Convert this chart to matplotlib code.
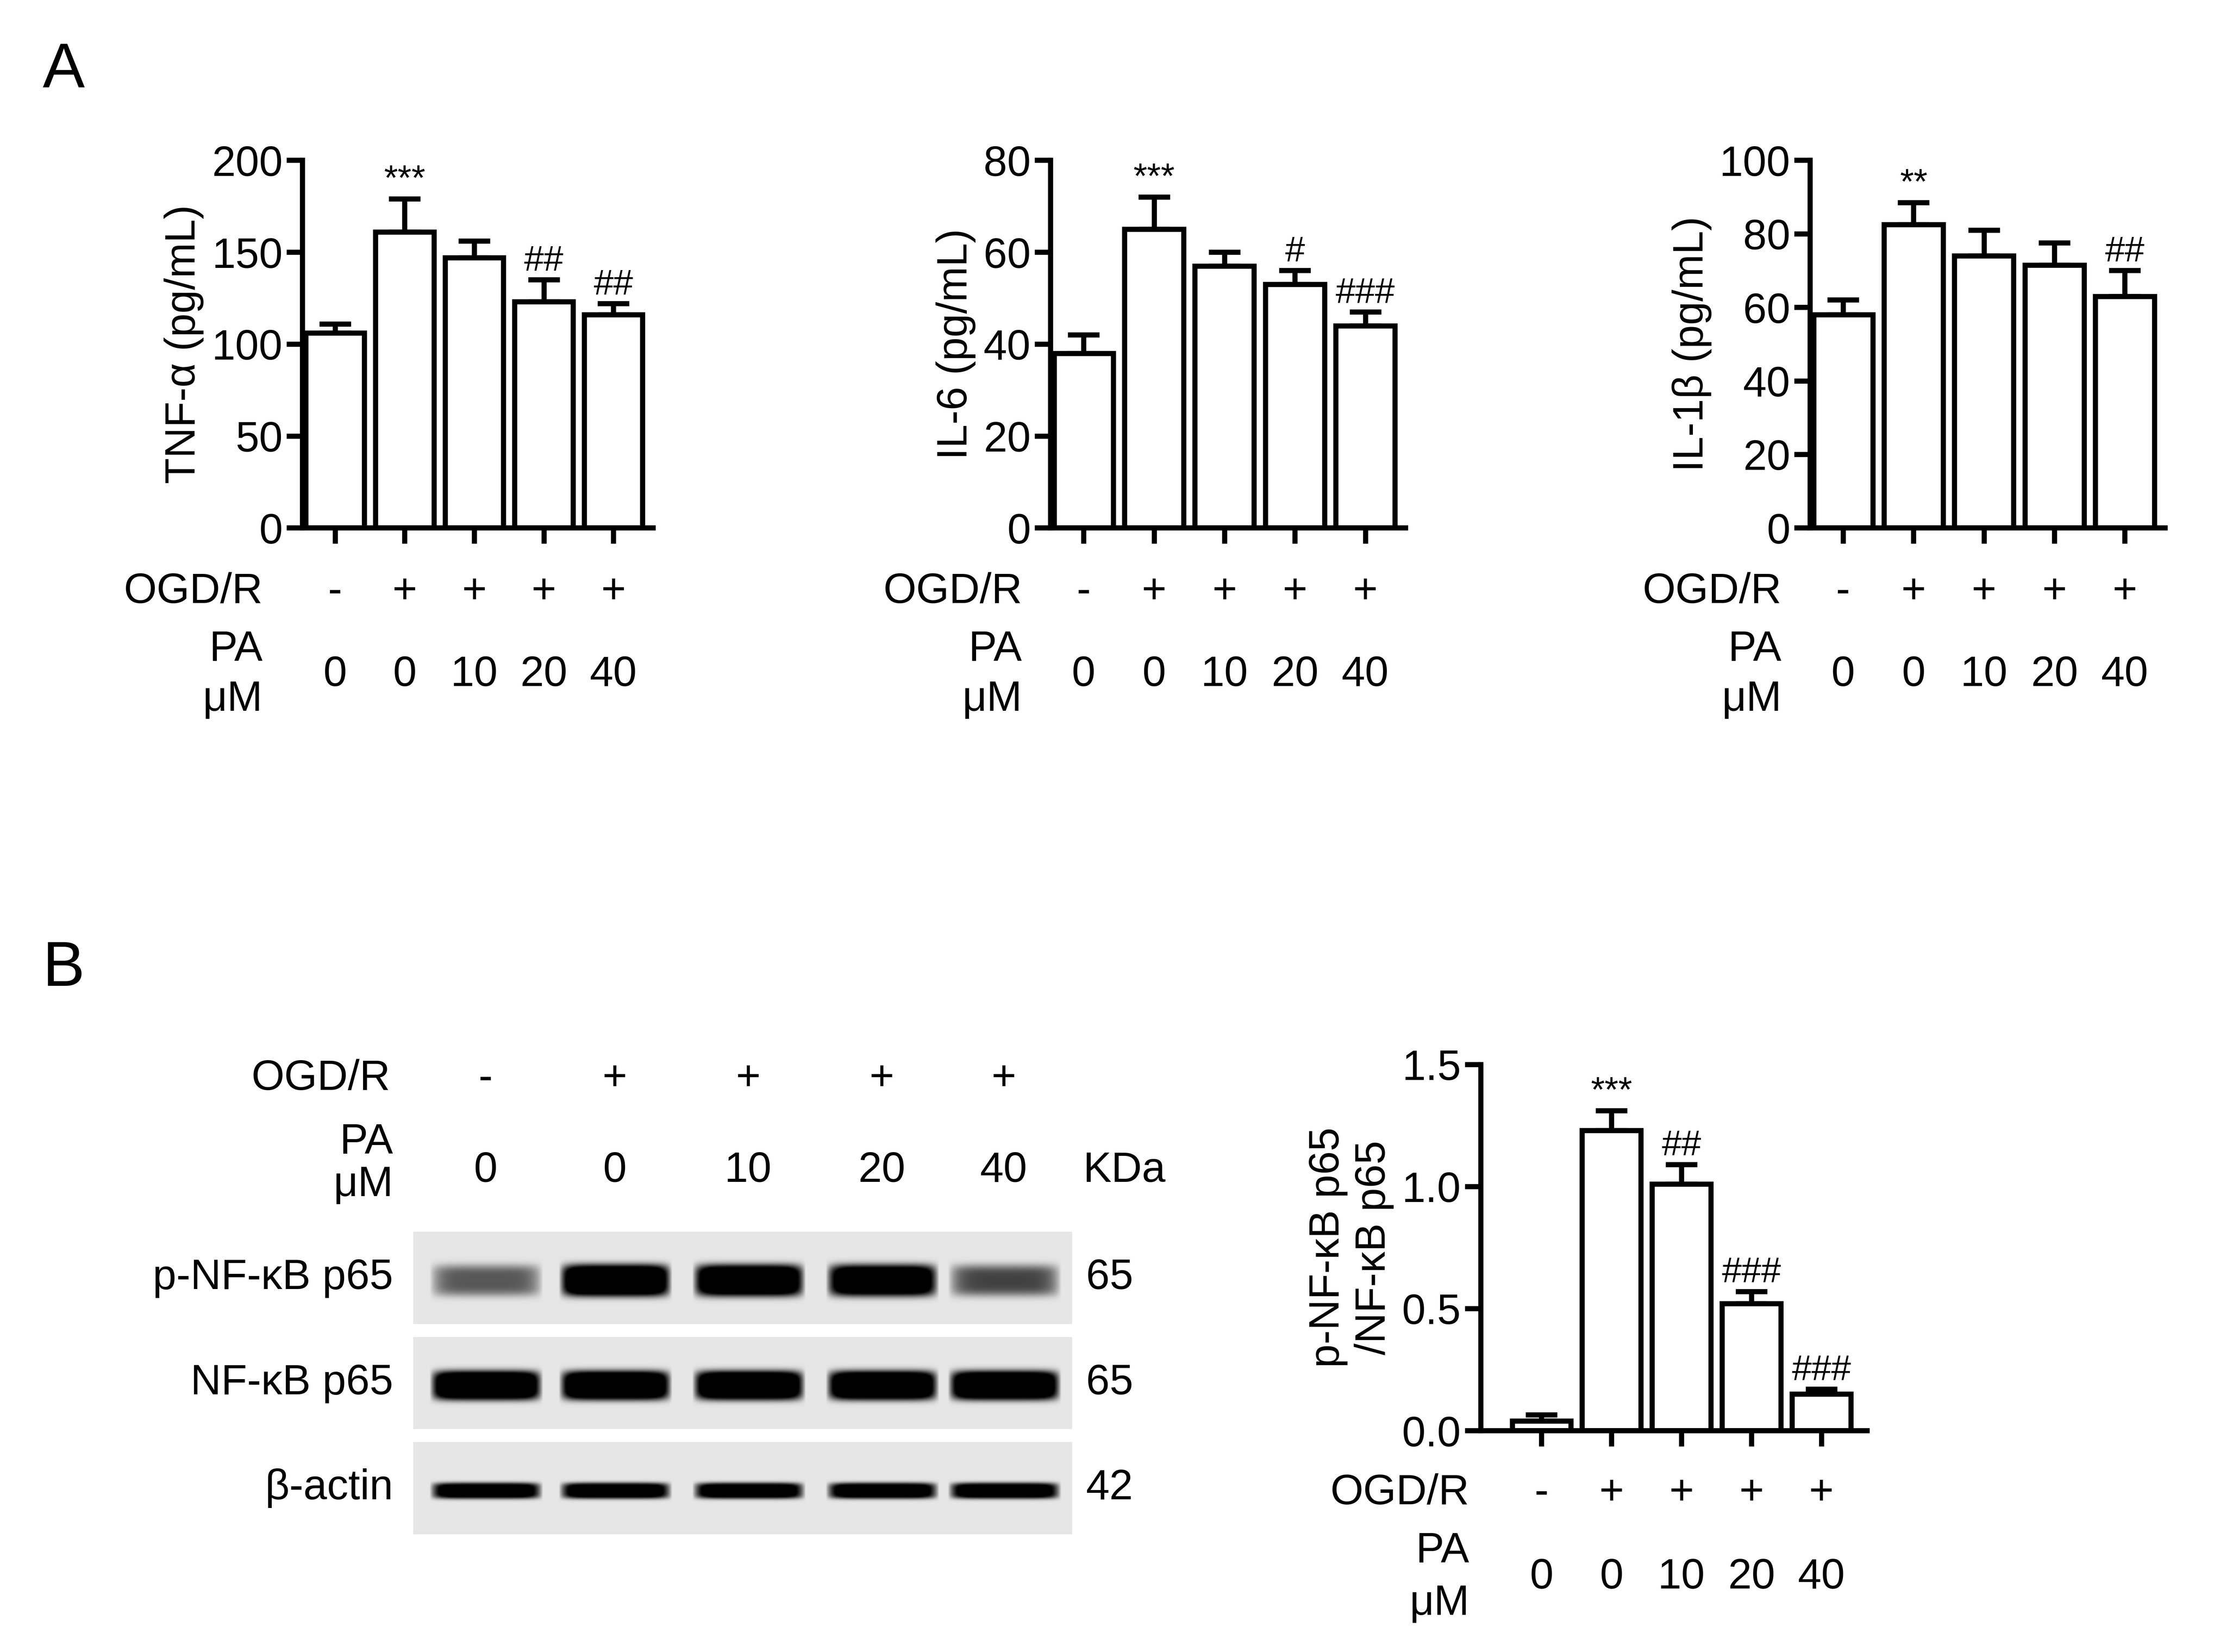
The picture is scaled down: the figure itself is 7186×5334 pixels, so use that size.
import numpy as np
import matplotlib
matplotlib.use("Agg")
import matplotlib.pyplot as plt
from matplotlib.transforms import blended_transform_factory

plt.rcParams['font.family'] = ['Liberation Sans', 'DejaVu Sans']

W, H = 1568, 1164  # layout grid in reference pixels (scaled down)
FS = 21.5

# data
ogd = ['-', '+', '+', '+', '+']
pa = ['0', '0', '10', '20', '40']

tnf_mean = [106, 161, 147, 123, 116]
tnf_err = [5, 18, 9, 12, 6]
tnf_sig = ['', '***', '', '##', '##']

il6_mean = [38, 65, 57, 53, 44]
il6_err = [4, 7, 3, 3, 3]
il6_sig = ['', '***', '', '#', '###']

il1b_mean = [58, 82.5, 74, 71.5, 63]
il1b_err = [4, 6, 7, 6, 7]
il1b_sig = ['', '**', '', '', '##']

p65_mean = [0.04, 1.23, 1.01, 0.52, 0.15]
p65_err = [0.025, 0.08, 0.08, 0.05, 0.02]
p65_sig = ['', '***', '##', '###', '###']

# western blot band intensities (0..1) per lane
blot_names = ['p-NF-κB p65', 'NF-κB p65', 'β-actin']
blot_kda = ['65', '65', '42']
band_p = [0.35, 1.0, 0.95, 0.9, 0.4]
band_t = [1.0, 1.0, 1.0, 1.0, 1.0]
band_a = [0.85, 0.85, 0.85, 0.85, 0.85]

fig = plt.figure(figsize=(W / 100, H / 100), dpi=7186 / (W / 100))


def fx(x):
    return x / W


def fy(y):
    return 1 - y / H


def bar_panel(rect, mean, err, sig, ylim, yticks, ylabel, fmt, row_y, lab_x, xlim):
    l, t, r, b = rect
    ax = fig.add_axes([fx(l), fy(b), fx(r) - fx(l), fy(t) - fy(b)])
    x = np.arange(len(mean))
    ax.bar(x, mean, width=0.84, color='white', edgecolor='black', linewidth=2.6, zorder=2)
    ax.errorbar(x, mean, yerr=[np.zeros(len(err)), err], fmt='none', ecolor='black',
                elinewidth=2.6, capsize=8, capthick=2.6, zorder=1)
    span = ylim[1] - ylim[0]
    for xi, m, e, s in zip(x, mean, err, sig):
        if s:
            ax.text(xi, m + e + span * 0.005, s, ha='center', va='bottom', fontsize=18)
    ax.set_xlim(*xlim)
    ax.set_ylim(*ylim)
    ax.set_yticks(yticks)
    ax.set_yticklabels([fmt.format(v) for v in yticks], fontsize=FS)
    ax.set_xticks(x)
    ax.set_xticklabels([])
    for side in ['top', 'right']:
        ax.spines[side].set_visible(False)
    for side in ['left', 'bottom']:
        ax.spines[side].set_linewidth(2.6)
    ax.tick_params(width=2.6, length=8, pad=2)
    ax.set_ylabel(ylabel, fontsize=FS, labelpad=4)
    tr = blended_transform_factory(ax.transData, fig.transFigure)
    y1, y2, y3 = row_y
    fig.text(fx(lab_x), fy(y1), 'OGD/R', ha='right', va='center', fontsize=FS)
    fig.text(fx(lab_x), fy(y2), 'PA', ha='right', va='center', fontsize=FS)
    fig.text(fx(lab_x), fy(y3), 'μM', ha='right', va='center', fontsize=FS)
    for xi, s, p in zip(x, ogd, pa):
        ax.text(xi, fy(y1), s, transform=tr, ha='center', va='center', fontsize=FS)
        ax.text(xi, fy((y2 + y3) / 2), p, transform=tr, ha='center', va='center', fontsize=FS)
    return ax


xa = (-0.47, 4.57)
bar_panel((213, 113, 460, 372), tnf_mean, tnf_err, tnf_sig, (0, 200), [0, 50, 100, 150, 200],
          'TNF-α (pg/mL)', '{:g}', (417, 458, 493), 185, xa)
bar_panel((740, 113, 990, 372), il6_mean, il6_err, il6_sig, (0, 80), [0, 20, 40, 60, 80],
          'IL-6 (pg/mL)', '{:g}', (417, 458, 493), 720, xa)
bar_panel((1275, 113, 1525, 372), il1b_mean, il1b_err, il1b_sig, (0, 100), [0, 20, 40, 60, 80, 100],
          'IL-1β (pg/mL)', '{:g}', (417, 458, 493), 1255, xa)
bar_panel((1043, 750, 1315, 1008), p65_mean, p65_err, p65_sig, (0, 1.5), [0, 0.5, 1.0, 1.5],
          'p-NF-κB p65\n/NF-κB p65', '{:.1f}', (1052, 1093, 1130), 1035, (-0.87, 4.65))

fig.text(fx(30), fy(50), 'A', fontsize=32, va='center')
fig.text(fx(30), fy(683), 'B', fontsize=32, va='center')

# western blot
lanes_x = [342, 433, 527, 621, 707]
fig.text(fx(275), fy(760), 'OGD/R', ha='right', va='center', fontsize=FS)
fig.text(fx(277), fy(805), 'PA', ha='right', va='center', fontsize=FS)
fig.text(fx(277), fy(835), 'μM', ha='right', va='center', fontsize=FS)
for lx, s, p in zip(lanes_x, ogd, pa):
    fig.text(fx(lx), fy(760), s, ha='center', va='center', fontsize=FS)
    fig.text(fx(lx), fy(825), p, ha='center', va='center', fontsize=FS)
fig.text(fx(763), fy(825), 'KDa', ha='left', va='center', fontsize=FS)

rows = [(868, 933, band_p, 24), (942, 1007, band_t, 22), (1016, 1081, band_a, 12)]
bx0, bx1 = 291, 755
for (t, b, inten, thick), name, kda in zip(rows, blot_names, blot_kda):
    ax = fig.add_axes([fx(bx0), fy(b), fx(bx1) - fx(bx0), fy(t) - fy(b)])
    nx, ny = bx1 - bx0, b - t
    xs = np.arange(nx)[None, :] + bx0
    ys = np.arange(ny)[:, None]
    img = np.full((ny, nx), 0.9)
    for lx, v in zip(lanes_x, inten):
        hx = np.clip(1 - (np.abs(xs - lx) / 40.0) ** 6, 0, 1)
        vy = np.exp(-((ys - ny * 0.52) / (thick / 2.2)) ** 4)
        img -= 1.6 * v * hx * vy
    img = np.clip(img, 0, 1)
    ax.imshow(img, cmap='gray', vmin=0, vmax=1, aspect='auto', interpolation='bilinear')
    ax.set_axis_off()
    fig.text(fx(277), fy((t + b) / 2), name, ha='right', va='center', fontsize=FS)
    fig.text(fx(765), fy((t + b) / 2), kda, ha='left', va='center', fontsize=FS)

fig.savefig('out.png', dpi=7186 / (W / 100), facecolor='white')
